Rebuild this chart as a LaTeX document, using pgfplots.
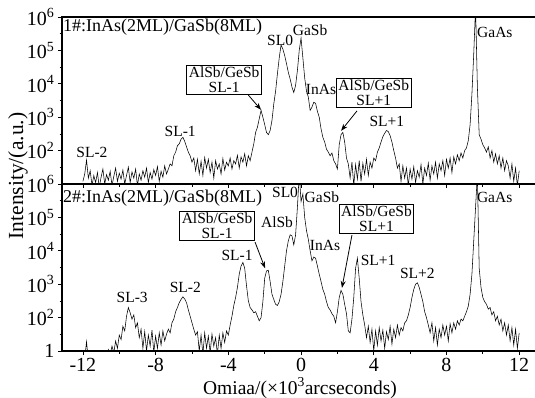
\documentclass[border=0pt]{standalone}
\usepackage{fontspec}
\setmainfont{Liberation Serif}
\usepackage{pgfplots}
\usepackage{pgfplotstable}
\pgfplotsset{compat=1.18}
\usetikzlibrary{arrows.meta}

\pgfplotstableread{
x y
-12.0 12
-11.9 20
-11.8 52
-11.7 15
-11.6 25
-11.5 9
-11.4 18
-11.3 11
-11.2 22
-11.1 8
-11.0 16
-10.9 28
-10.8 10
-10.7 19
-10.6 13
-10.5 24
-10.4 9
-10.3 17
-10.2 30
-10.1 12
-10.0 21
-9.9 14
-9.8 26
-9.7 10
-9.6 18
-9.5 32
-9.4 11
-9.3 23
-9.2 15
-9.1 28
-9.0 9
-8.9 20
-8.8 13
-8.7 25
-8.6 16
-8.5 30
-8.4 11
-8.3 22
-8.2 14
-8.1 27
-8.0 18
-7.9 33
-7.8 12
-7.7 24
-7.6 16
-7.5 35
-7.4 20
-7.3 28
-7.2 40
-7.1 35
-7.0 70
-6.9 90
-6.8 140
-6.7 160
-6.6 220
-6.5 250
-6.4 190
-6.3 130
-6.2 90
-6.1 70
-6.0 45
-5.9 60
-5.8 25
-5.7 55
-5.6 20
-5.5 48
-5.4 18
-5.3 62
-5.2 30
-5.1 55
-5.0 22
-4.9 45
-4.8 15
-4.7 50
-4.6 28
-4.5 40
-4.4 20
-4.3 58
-4.2 26
-4.1 45
-4.0 35
-3.9 60
-3.8 28
-3.7 50
-3.6 40
-3.5 72
-3.4 30
-3.3 65
-3.2 45
-3.1 80
-3.0 35
-2.9 70
-2.8 50
-2.7 90
-2.6 160
-2.5 350
-2.4 500
-2.3 900
-2.2 1600
-2.1 1000
-2.0 600
-1.9 350
-1.8 300
-1.7 400
-1.6 800
-1.5 2500
-1.4 6000
-1.3 20000
-1.2 60000
-1.1 145000
-1.0 110000
-0.9 70000
-0.8 40000
-0.7 22000
-0.6 14000
-0.5 8000
-0.4 5500
-0.3 9000
-0.2 25000
-0.1 100000
0.0 235000
0.1 60000
0.2 15000
0.3 6000
0.4 4000
0.5 1600
0.6 2000
0.7 2800
0.8 2600
0.9 1500
1.0 1000
1.1 450
1.2 250
1.3 180
1.4 110
1.5 90
1.6 70
1.7 85
1.8 50
1.9 40
2.0 28
2.1 150
2.2 300
2.3 350
2.4 180
2.5 60
2.6 40
2.7 15
2.8 45
2.9 9
3.0 38
3.1 14
3.2 50
3.3 12
3.4 42
3.5 20
3.6 55
3.7 18
3.8 45
3.9 30
4.0 60
4.1 50
4.2 90
4.3 120
4.4 180
4.5 260
4.6 330
4.7 400
4.8 370
4.9 280
5.0 180
5.1 100
5.2 60
5.3 30
5.4 40
5.5 12
5.6 35
5.7 15
5.8 30
5.9 9
6.0 28
6.1 14
6.2 33
6.3 11
6.4 25
6.5 16
6.6 38
6.7 10
6.8 30
6.9 18
7.0 42
7.1 13
7.2 35
7.3 20
7.4 45
7.5 15
7.6 40
7.7 25
7.8 50
7.9 18
8.0 55
8.1 30
8.2 60
8.3 22
8.4 65
8.5 40
8.6 75
8.7 50
8.8 85
8.9 60
9.0 100
9.1 120
9.2 200
9.3 600
9.4 5000
9.5 80000
9.6 2000000
9.7 8000
9.8 300
9.9 220
10.0 150
10.1 120
10.2 90
10.3 130
10.4 60
10.5 100
10.6 45
10.7 80
10.8 40
10.9 70
11.0 30
11.1 60
11.2 25
11.3 50
11.4 35
11.5 15
11.6 40
11.7 12
11.8 30
11.9 9
12.0 25
}\topdata

\pgfplotstableread{
x y
-12.0 4
-11.9 6
-11.8 19
-11.7 5
-11.6 7
-11.5 4
-11.4 6
-11.3 5
-11.2 7
-11.1 4
-11.0 6
-10.9 5
-10.8 8
-10.7 6
-10.6 11
-10.5 8
-10.4 14
-10.3 9
-10.2 20
-10.1 12
-10.0 30
-9.9 22
-9.8 55
-9.7 40
-9.6 110
-9.5 200
-9.4 140
-9.3 90
-9.2 120
-9.1 50
-9.0 70
-8.9 25
-8.8 45
-8.7 12
-8.6 38
-8.5 10
-8.4 30
-8.3 14
-8.2 42
-8.1 9
-8.0 28
-7.9 12
-7.8 35
-7.7 15
-7.6 40
-7.5 20
-7.4 32
-7.3 45
-7.2 35
-7.1 70
-7.0 90
-6.9 150
-6.8 200
-6.7 280
-6.6 350
-6.5 420
-6.4 360
-6.3 280
-6.2 170
-6.1 110
-6.0 70
-5.9 45
-5.8 30
-5.7 38
-5.6 10
-5.5 30
-5.4 8
-5.3 35
-5.2 12
-5.1 28
-5.0 9
-4.9 32
-4.8 14
-4.7 25
-4.6 8
-4.5 30
-4.4 12
-4.3 35
-4.2 18
-4.1 40
-4.0 30
-3.9 60
-3.8 110
-3.7 230
-3.6 400
-3.5 800
-3.4 2000
-3.3 3500
-3.2 4500
-3.1 3000
-3.0 900
-2.9 320
-2.8 200
-2.7 170
-2.6 140
-2.5 150
-2.4 110
-2.3 80
-2.2 100
-2.1 300
-2.0 1500
-1.9 2500
-1.8 2600
-1.7 1200
-1.6 500
-1.5 350
-1.4 250
-1.3 230
-1.2 300
-1.1 500
-1.0 1200
-0.9 3500
-0.8 10000
-0.7 20000
-0.6 30000
-0.5 28000
-0.4 15000
-0.3 30000
-0.2 200000
-0.1 2000000
0.0 300000
0.1 500000
0.2 100000
0.3 40000
0.4 22000
0.5 10000
0.6 5000
0.7 6500
0.8 6000
0.9 3500
1.0 2000
1.1 1200
1.2 700
1.3 500
1.4 300
1.5 200
1.6 170
1.7 130
1.8 110
1.9 70
2.0 150
2.1 400
2.2 650
2.3 500
2.4 250
2.5 130
2.6 40
2.7 35
2.8 90
2.9 400
3.0 3000
3.1 6000
3.2 1500
3.3 300
3.4 120
3.5 60
3.6 25
3.7 55
3.8 18
3.9 45
4.0 10
4.1 40
4.2 15
4.3 50
4.4 20
4.5 42
4.6 12
4.7 38
4.8 22
4.9 55
5.0 16
5.1 45
5.2 25
5.3 60
5.4 30
5.5 50
5.6 40
5.7 70
5.8 80
5.9 120
6.0 200
6.1 400
6.2 700
6.3 1000
6.4 1100
6.5 800
6.6 500
6.7 300
6.8 150
6.9 100
7.0 60
7.1 35
7.2 70
7.3 20
7.4 50
7.5 15
7.6 45
7.7 25
7.8 60
7.9 30
8.0 55
8.1 20
8.2 65
8.3 35
8.4 70
8.5 45
8.6 80
8.7 60
8.8 90
8.9 80
9.0 110
9.1 150
9.2 220
9.3 500
9.4 2000
9.5 20000
9.6 200000
9.7 2000000
9.8 3000
9.9 800
10.0 400
10.1 300
10.2 250
10.3 180
10.4 200
10.5 120
10.6 150
10.7 80
10.8 110
10.9 60
11.0 90
11.1 40
11.2 70
11.3 30
11.4 60
11.5 20
11.6 50
11.7 15
11.8 45
11.9 12
12.0 35
}\bottomdata

\tikzset{
  lbl/.style={font=\fontsize{15.5}{15.5}\selectfont, inner sep=0pt},
  bx/.style={draw, line width=0.8pt, fill=white, align=center,
    font=\fontsize{15.5}{15}\selectfont, inner xsep=2pt, inner ysep=1.5pt},
  arr/.style={-{Stealth[length=7pt,width=5pt]}, line width=0.8pt},
}

\begin{document}
\begin{tikzpicture}
\useasboundingbox (0,0) rectangle (535pt,397pt);

% top panel
\begin{axis}[scale only axis, width=475pt, height=167pt,
  at={(62pt,213pt)}, anchor=south west,
  xmin=-13.15, xmax=12.98, ymode=log, ymin=10, ymax=1e6,
  xtick={-12,-8,-4,0,4,8,12}, minor xtick={-10,-6,-2,2,6,10},
  minor ytick={31.6,316,3162,31623,316228},
  xtick pos=left, ytick pos=left, tick align=outside,
  major tick length=4pt, minor tick length=2.5pt,
  axis line style={line width=1.1pt},
  every tick/.style={black, line width=0.8pt},
  tick label style={font=\fontsize{20}{20}\selectfont},
  clip mode=individual,
  xticklabels={},
  ytick={100,1000,10000,100000,1000000},
  yticklabels={10\textsuperscript{2},10\textsuperscript{3},10\textsuperscript{4},10\textsuperscript{5},10\textsuperscript{6}}]
\addplot[black, line width=0.55pt] table[x=x,y=y] {\topdata};
\node[font=\fontsize{18}{18}\selectfont, anchor=west, inner sep=1pt] at (rel axis cs:0,0.94) {1\#:InAs(2ML)/GaSb(8ML)};
\node[lbl] at (axis cs:-11.5,91) {SL-2};
\node[lbl] at (axis cs:-6.65,363) {SL-1};
\node[bx] at (axis cs:-4.23,12900) {AlSb/GeSb\\SL-1};
\draw[arr] (axis cs:-2.9,4600) -- (axis cs:-2.2,1660);
\node[lbl] at (axis cs:-1.15,204000) {SL0};
\node[lbl] at (axis cs:0.5,400000) {GaSb};
\node[lbl] at (axis cs:1.1,6900) {InAs};
\node[bx] at (axis cs:4.0,5250) {AlSb/GeSb\\SL+1};
\draw[arr] (axis cs:3.08,1550) -- (axis cs:2.2,390);
\node[lbl] at (axis cs:4.72,725) {SL+1};
\node[lbl] at (axis cs:10.66,355000) {GaAs};
\end{axis}

% bottom panel
\begin{axis}[scale only axis, width=475pt, height=167pt,
  at={(62pt,46pt)}, anchor=south west,
  xmin=-13.15, xmax=12.98, ymode=log, ymin=10, ymax=1e6,
  xtick={-12,-8,-4,0,4,8,12}, minor xtick={-10,-6,-2,2,6,10},
  minor ytick={31.6,316,3162,31623,316228},
  xtick pos=left, ytick pos=left, tick align=outside,
  major tick length=4pt, minor tick length=2.5pt,
  axis line style={line width=1.1pt},
  every tick/.style={black, line width=0.8pt},
  tick label style={font=\fontsize{20}{20}\selectfont},
  xticklabel style={inner ysep=1pt, yshift=-2pt},
  clip mode=individual,
  xticklabels={-12,-8,-4,0,4,8,12},
  ytick={10,100,1000,10000,100000,1000000},
  yticklabels={1,10\textsuperscript{2},10\textsuperscript{3},10\textsuperscript{4},10\textsuperscript{5},10\textsuperscript{6}}]
\addplot[black, line width=0.55pt] table[x=x,y=y] {\bottomdata};
\node[font=\fontsize{18}{18}\selectfont, anchor=west, inner sep=1pt] at (rel axis cs:0,0.916) {2\#:InAs(2ML)/GaSb(8ML)};
\node[lbl] at (axis cs:-9.29,389) {SL-3};
\node[lbl] at (axis cs:-6.37,776) {SL-2};
\node[lbl] at (axis cs:-3.52,7400) {SL-1};
\node[bx] at (axis cs:-4.62,55000) {AlSb/GeSb\\SL-1};
\draw[arr] (axis cs:-2.53,18200) -- (axis cs:-1.98,3000);
\node[lbl] at (axis cs:-1.32,72000) {AlSb};
\node[lbl] at (axis cs:-0.88,575000) {SL0};
\node[lbl] at (axis cs:1.15,407000) {GaSb};
\node[lbl] at (axis cs:1.32,14800) {InAs};
\node[bx] at (axis cs:4.15,89000) {AlSb/GeSb\\SL+1};
\draw[arr] (axis cs:2.8,29500) -- (axis cs:2.25,776);
\node[lbl] at (axis cs:4.24,5250) {SL+1};
\node[lbl] at (axis cs:6.4,2140) {SL+2};
\node[lbl] at (axis cs:10.65,407000) {GaAs};
\end{axis}

\node[rotate=90, font=\fontsize{21.5}{21.5}\selectfont] at (18pt,221pt) {Intensity/(a.u.)};
\node[font=\fontsize{19.5}{19.5}\selectfont, inner sep=0pt] at (300pt,9pt) {Omiaa/(×10\textsuperscript{3}arcseconds)};
\end{tikzpicture}
\end{document}
